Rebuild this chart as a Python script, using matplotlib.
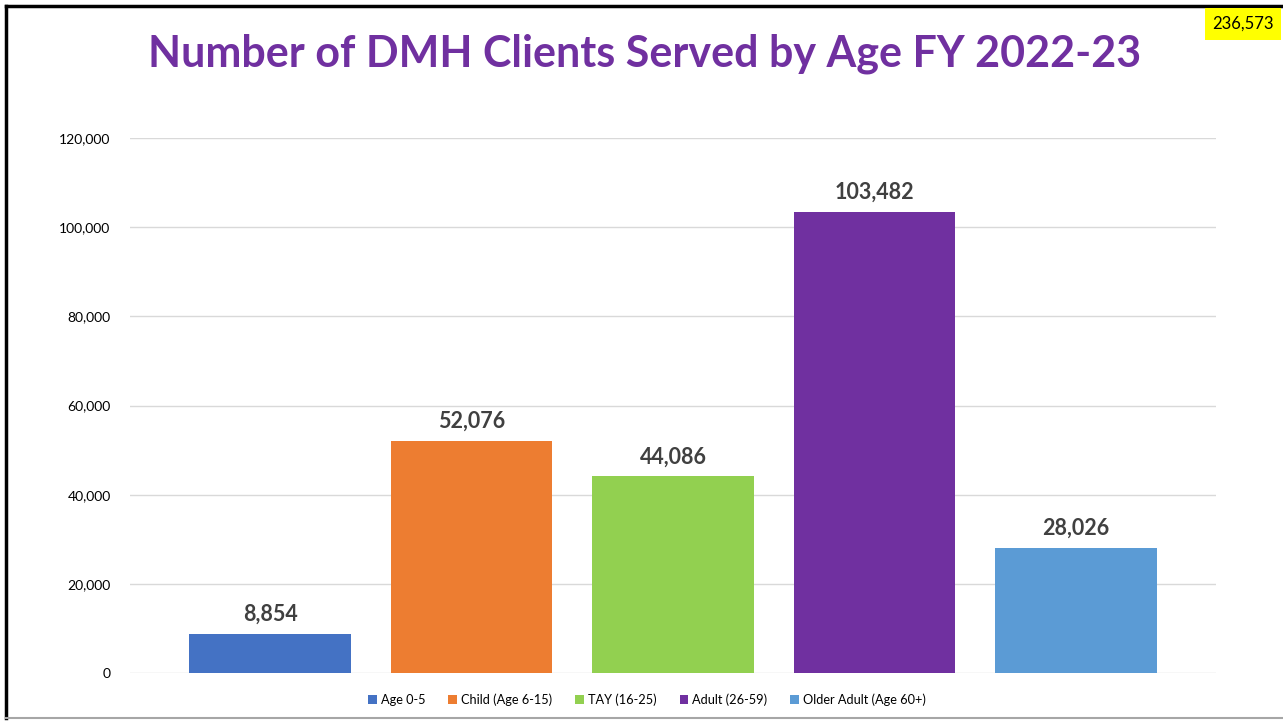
import matplotlib.pyplot as plt
from matplotlib.patches import Patch
from matplotlib.lines import Line2D

# data
categories = ["Age 0-5", "Child (Age 6-15)", "TAY (16-25)", "Adult (26-59)", "Older Adult (Age 60+)"]
clients = [8854, 52076, 44086, 103482, 28026]
colors = ["#4472C4", "#ED7D31", "#92D050", "#7030A0", "#5B9BD5"]
total_label = "236,573"
yticks = [0, 20000, 40000, 60000, 80000, 100000, 120000]

plt.rcParams['font.family'] = ['Lato', 'DejaVu Sans']

fig = plt.figure(figsize=(12.83, 7.23), dpi=100)
ax = fig.add_axes([130 / 1283, 1 - 673 / 723, 1086 / 1283, 535 / 723])

x = list(range(len(categories)))
ax.bar(x, clients, width=0.8, color=colors, zorder=3)
for xi, v in zip(x, clients):
    ax.text(xi, v + 2000, f"{v:,}", ha="center", va="bottom",
            fontsize=15.5, fontweight="bold", color="#404040")

ax.set_xlim(-0.695, 4.695)
ax.set_ylim(0, 120000)
ax.set_yticks(yticks)
ax.set_yticklabels([f"{t:,}" for t in yticks], fontsize=10)
ax.yaxis.grid(True, color="#d9d9d9", linewidth=1, zorder=0)
ax.set_xticks([])
for s in ax.spines.values():
    s.set_visible(False)
ax.tick_params(axis="y", length=0, pad=14)

# title
fig.text(645 / 1283, 1 - 54 / 723, "Number of DMH Clients Served by Age FY 2022-23",
         ha="center", va="center", fontsize=31, fontweight="bold", color="#7030A0")

# legend
handles = [Patch(facecolor=c, edgecolor="none") for c in colors]
fig.legend(handles, categories, loc="center", bbox_to_anchor=(647 / 1283, 1 - 700 / 723),
           ncol=5, frameon=False, fontsize=9.2, handlelength=0.7, handleheight=0.7,
           handletextpad=0.3, columnspacing=1.8)

# frame lines
fig.add_artist(Line2D([6 / 1283, 1], [1 - 6 / 723, 1 - 6 / 723], color="black", lw=2.5))
fig.add_artist(Line2D([6 / 1283, 6 / 1283], [1 - 6 / 723, 1 - 718 / 723], color="black", lw=2.5))
fig.add_artist(Line2D([6 / 1283, 1], [1 - 718 / 723, 1 - 718 / 723], color="#a6a6a6", lw=1.5))

# total box
fig.text(1243 / 1283, 1 - 24 / 723, total_label, ha="center", va="center", fontsize=12,
         bbox=dict(facecolor="yellow", edgecolor="none", pad=5.5))

fig.savefig("out.png", dpi=100)
